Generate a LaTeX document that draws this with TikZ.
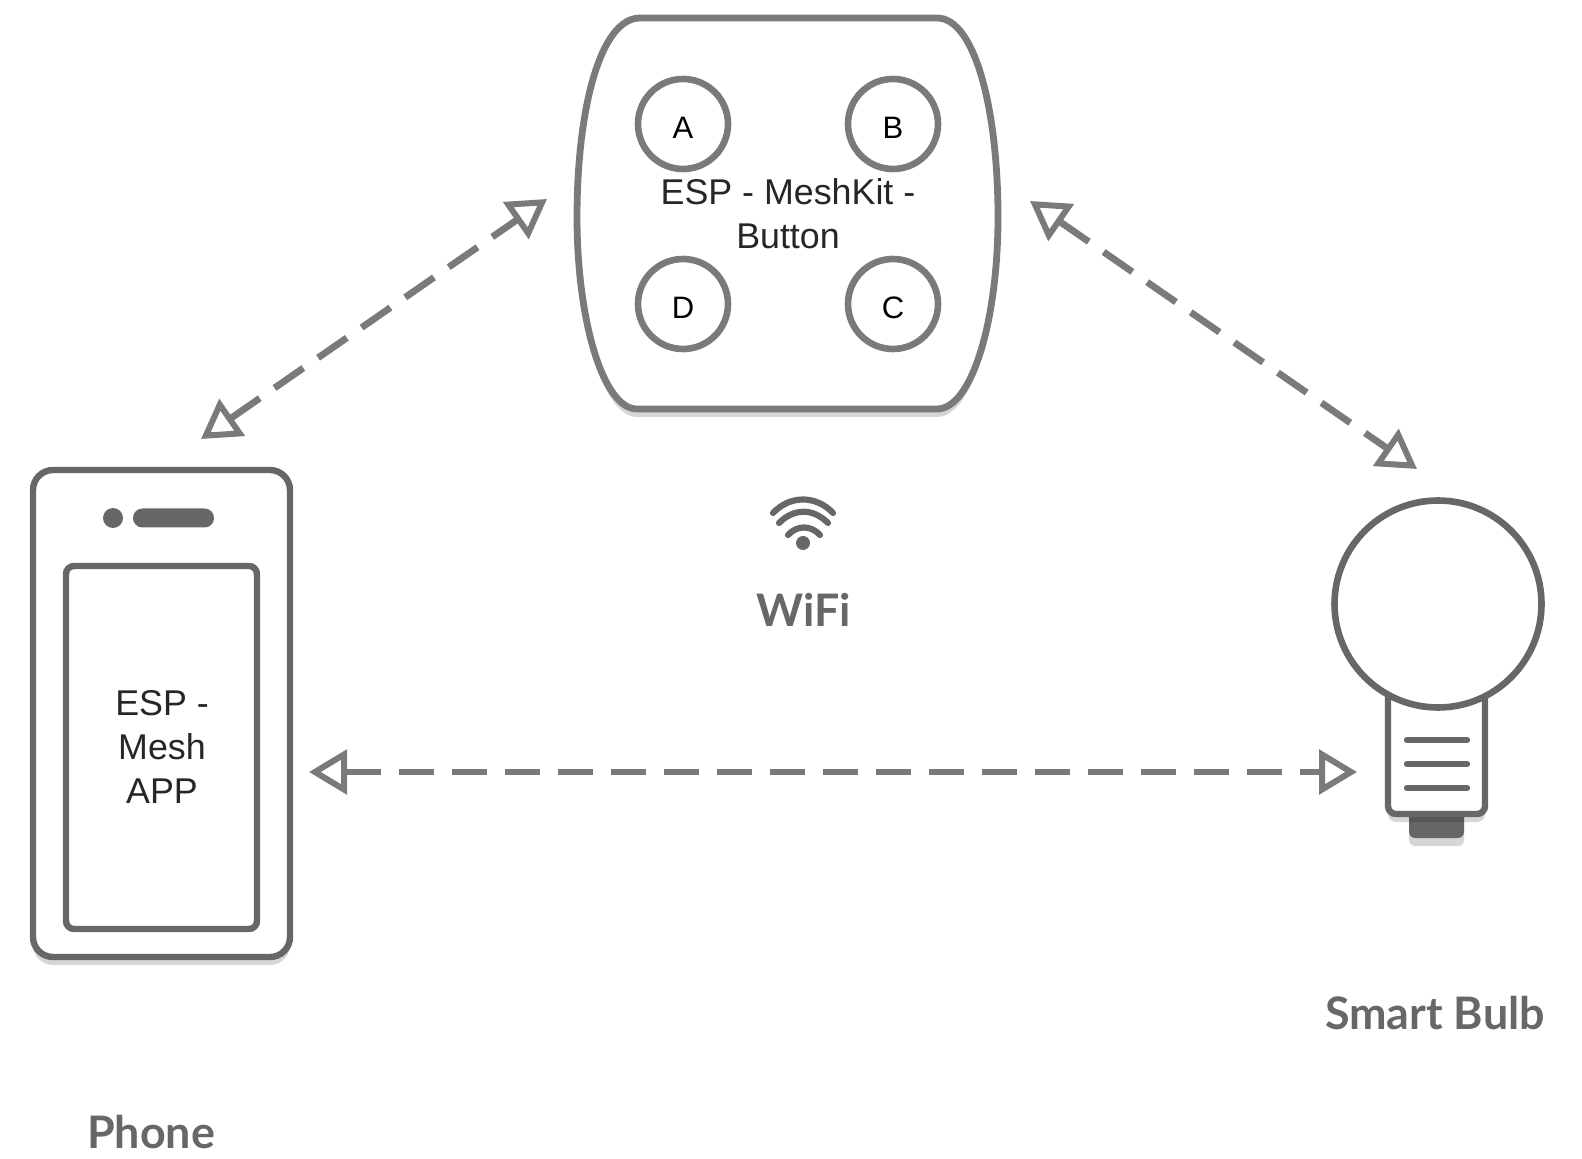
\documentclass[tikz,border=0pt]{standalone}
\usepackage{fontspec}
\setmainfont{Liberation Sans}
\newfontfamily\capfont{Lato}
\usetikzlibrary{arrows.meta,shadows}
\definecolor{iconc}{HTML}{666868}
\definecolor{linkc}{HTML}{7A7A7A}
\newcommand{\keytxt}[1]{\raisebox{-2pt}[11pt][0pt]{#1}}
\tikzset{
  softshadow/.style={drop shadow={shadow xshift=0pt,shadow yshift=-4pt,opacity=.16,fill=black}},
  box/.style={draw=iconc,line width=3.2pt,fill=white,rectangle,inner sep=0pt,align=center},
  key/.style={draw=linkc,line width=3.3pt,fill=white,circle,minimum size=45pt,inner sep=0pt,font=\fontsize{15.5}{15.5}\selectfont},
  title/.style={text=iconc,font=\capfont\bfseries\fontsize{22.4}{22.4}\selectfont},
  body/.style={text=black!85,align=center,font=\fontsize{17.9}{22}\selectfont},
  link/.style={draw=linkc,line width=3.4pt,dash pattern=on 17.5pt off 9pt,{Triangle[open,line width=3pt,length=19pt,width=22pt]}-{Triangle[open,line width=3pt,length=19pt,width=22pt]}},
  bar/.style={draw=iconc,line width=3.2pt,line cap=round}
}
\begin{document}
\begin{tikzpicture}[x=.5pt,y=-.5pt]
\useasboundingbox (0,0) rectangle (1582,1159);
% button
\draw[draw=linkc,line width=3.4pt,fill=white,softshadow] (640,18)--(937,18)
  .. controls (975,18) and (998,110) .. (998,217)
  .. controls (998,320) and (972,409) .. (937,409)--(637,409)
  .. controls (603,409) and (577,320) .. (577,217)
  .. controls (577,110) and (600,18) .. (640,18)--cycle;
\node[key](keyA)at(683,124){\keytxt{A}};
\node[key](keyB)at(893,124){\keytxt{B}};
\node[key](keyC)at(893,304){\keytxt{C}};
\node[key](keyD)at(683,304){\keytxt{D}};
\node[body](buttonText)at(788,214){ESP - MeshKit -\\Button};
% phone
\node[box,minimum width=128.5pt,minimum height=243.5pt,rounded corners=10pt,softshadow](phone)at(161.5,713.5){};
\node[box,minimum width=95.5pt,minimum height=181.5pt,rounded corners=4pt](screen)at(161.5,747.5){};
\node[body](phoneText)at(162,746.5){ESP -\\Mesh\\APP};
\node[circle,fill=iconc,minimum size=10pt,inner sep=0pt](lens)at(113,518){};
\node[fill=iconc,rounded corners=4.7pt,minimum width=40.5pt,minimum height=9.5pt,inner sep=0pt](speaker)at(173.5,518){};
\node[title](phoneName)at(151,1132){Phone};
% bulb
\node[fill=iconc,rounded corners=3pt,minimum width=27.5pt,minimum height=16pt,inner sep=0pt,softshadow](foot)at(1436.5,822){};
\draw[draw=iconc,line width=3.2pt,fill=white,softshadow,rounded corners=4pt] (1388,690)--(1388,814)--(1485,814)--(1485,690);
\node[circle,draw=iconc,line width=3.3pt,fill=white,minimum size=103.5pt,inner sep=0pt](bulb)at(1438,604){};
\coordinate(lineA1)at(1407,740);\coordinate(lineA2)at(1467,740);
\coordinate(lineB1)at(1407,764);\coordinate(lineB2)at(1467,764);
\coordinate(lineC1)at(1407,788);\coordinate(lineC2)at(1467,788);
\draw[bar] (lineA1)--(lineA2) (lineB1)--(lineB2) (lineC1)--(lineC2);
\node[title](bulbName)at(1435,1013){Smart Bulb};
% wifi
\node[circle,fill=iconc,minimum size=7pt,inner sep=0pt](wifiDot)at(803,543){};
\draw[iconc,line width=3.1pt,line cap=round] (773,513) .. controls (790,495) and (816,495) .. (833,513)
  (779,523) .. controls (794,508) and (813,508) .. (828,523)
  (788,535) .. controls (797,525) and (811,525) .. (820,535);
\node[title](wifiName)at(804,610){WiFi};
% links
\coordinate(phoneTop)at(201,439);
\coordinate(buttonLeft)at(547,199);
\coordinate(buttonRight)at(1030,201);
\coordinate(bulbTop)at(1417,469);
\coordinate(phoneRight)at(309,772);
\coordinate(bulbLeft)at(1357,772);
\draw[link] (phoneTop)--(buttonLeft);
\draw[link] (buttonRight)--(bulbTop);
\draw[link] (phoneRight)--(bulbLeft);
\end{tikzpicture}
\end{document}
